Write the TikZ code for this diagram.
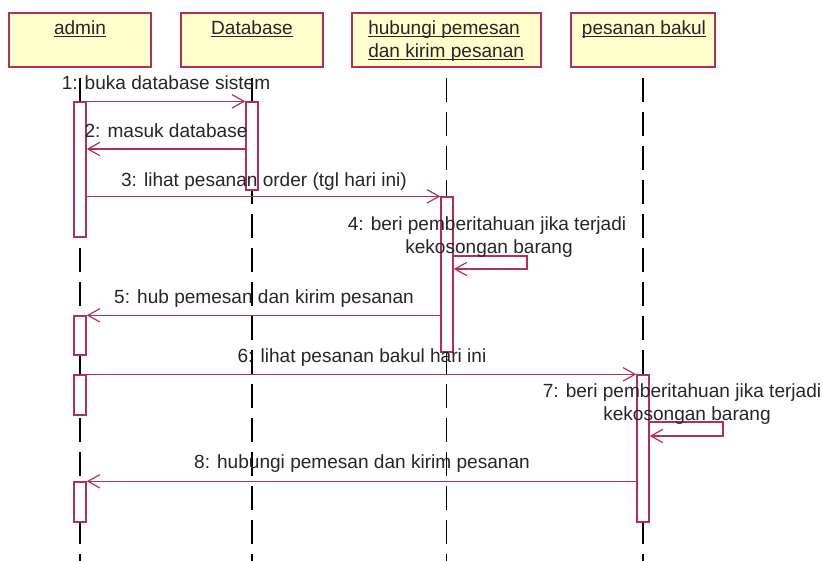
\documentclass[tikz,border=0pt]{standalone}
\usepackage{fontspec}
\setmainfont{Liberation Sans}
\usetikzlibrary{arrows.meta,fit,calc}
\definecolor{umlred}{HTML}{B0305C}
\definecolor{umlfill}{HTML}{FFFFCC}
\definecolor{txt}{HTML}{262626}
\begin{document}
\begin{tikzpicture}[x=0.75pt,y=-0.75pt,
  head/.style={draw=umlred, fill=umlfill, line width=1.2pt, inner sep=0pt},
  life/.style={draw=black, line width=0.8pt, dash pattern=on 18pt off 7.5pt},
  act/.style={draw=umlred, fill=white, line width=1pt, inner sep=0pt},
  msg/.style={draw=umlred, line width=1pt, -{Straight Barb[length=9pt,width=10pt,line width=0.9pt]}},
  lbl/.style={inner sep=0pt, anchor=base, text=txt, font=\fontsize{14.3}{17}\selectfont},
  uline/.style={draw=txt, line width=0.75pt},
  ]
\useasboundingbox (0,0) rectangle (822,561);
\coordinate (bottom) at (0,561);
% heads
\node[head, fit={(9,13)(151,67)}] (admin) {};
\node[head, fit={(181,13)(323,67)}] (db) {};
\node[head, fit={(352,13)(541,67)}] (hub) {};
\node[head, fit={(571,13)(715,67)}] (bakul) {};
\node[lbl] (tadmin) at (80,34) {admin};
\node[lbl] (tdb) at (252,34) {Database};
\node[lbl, anchor=base west] (thub1) at (368,34) {hubungi pemesan\ };
\node[lbl, anchor=base west] (thub2) at (368,57) {dan kirim pesanan};
\node[lbl] (tbakul) at (644,34) {pesanan bakul};
\foreach \n in {tadmin,tdb,thub1,thub2,tbakul}
  \draw[uline] ([yshift=-2.2pt]\n.base west) -- ([yshift=-2.2pt]\n.base east);
% lifelines
\draw[life] ([yshift=-7.5pt]admin.south) -- (admin.south |- bottom);
\draw[life] ([yshift=-7.5pt]db.south) -- (db.south |- bottom);
\draw[life] ([yshift=-7.5pt]hub.south) -- (hub.south |- bottom);
\draw[life] ([yshift=-7.5pt]bakul.south) -- (bakul.south |- bottom);
% activations
\node[act, fit={(74,102)(86,237)}] (a1) {};
\node[act, fit={(246,102)(258,190)}] (d1) {};
\node[act, fit={(441,197)(453,352)}] (h1) {};
\node[act, fit={(74,316)(86,355)}] (a2) {};
\node[act, fit={(74,375)(86,415)}] (a3) {};
\node[act, fit={(637,375)(649,522)}] (b1) {};
\node[act, fit={(74,482)(86,522)}] (a4) {};
% messages
\draw[msg] (a1.north east) -- (d1.north west);
\draw[msg] (d1.west |- 0,149) -- (a1.east |- 0,149);
\draw[msg] (a1.east |- h1.north) -- (h1.north west);
\coordinate (s4) at (527,256);
\draw[msg] (h1.east |- s4) -- (s4) -- ++(0,13) -- (h1.east |- 0,269);
\draw[msg] (h1.west |- a2.north) -- (a2.north east);
\draw[msg] (a3.north east) -- (b1.north west);
\coordinate (s7) at (723,422);
\draw[msg] (b1.east |- s7) -- (s7) -- ++(0,14) -- (b1.east |- 0,436);
\draw[msg] (b1.west |- a4.north) -- (a4.north east);
% labels
\node[lbl] (l1) at (166,89) {1: buka database sistem};
\node[lbl] (l2) at (166,137) {2: masuk database};
\node[lbl] (l3) at (264,186) {3: lihat pesanan order (tgl hari ini)};
\node[lbl] (l4a) at (487,230) {4: beri pemberitahuan jika terjadi};
\node[lbl] (l4b) at (489,253) {kekosongan barang};
\node[lbl] (l5) at (264,303) {5: hub pemesan dan kirim pesanan};
\node[lbl] (l6) at (362,362) {6: lihat pesanan bakul hari ini};
\node[lbl] (l7a) at (682,397) {7: beri pemberitahuan jika terjadi};
\node[lbl] (l7b) at (687,420) {kekosongan barang};
\node[lbl] (l8) at (362,468) {8: hubungi pemesan dan kirim pesanan};
\end{tikzpicture}
\end{document}
